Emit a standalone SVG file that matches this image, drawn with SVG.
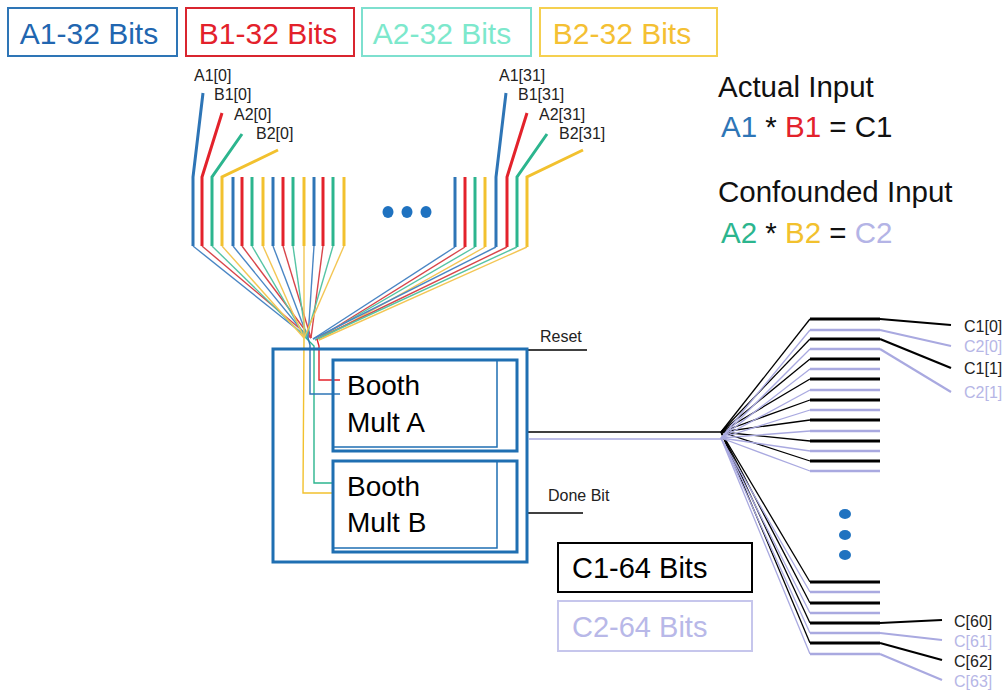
<svg xmlns="http://www.w3.org/2000/svg" width="1008" height="692" viewBox="0 0 1008 692">
<style>
text{font-family:"Liberation Sans",Arial,sans-serif;}
.big{font-size:30px;}
.leg{font-size:29.5px;fill:#111;}
.lbl{font-size:16px;fill:#222;}
.lblc2{font-size:16px;fill:#b6b6e6;}
.bus{stroke-width:3;fill:none;stroke-linecap:butt;}
.fan{stroke-width:1.4;fill:none;}
.cB{stroke:#2e75b6;} .cR{stroke:#e3222b;} .cT{stroke:#2cb58e;} .cY{stroke:#f2c12e;}
.fB{stroke:#4a86c4;} .fR{stroke:#d8464b;} .fT{stroke:#55c4a4;} .fY{stroke:#f3c654;}
.box{fill:none;stroke:#1f6fb2;stroke-width:3;}
.thin{fill:none;stroke:#1f6fb2;stroke-width:1.5;}
.k{stroke:#000;stroke-width:1.3;fill:none;}
.l{stroke:#a9a9e0;stroke-width:1.3;fill:none;}
.kb{stroke:#000;stroke-width:3;}
.lb{stroke:#a9a9e0;stroke-width:2.5;}
.dot{fill:#1f72c0;}
</style>

<g id="legend-top">
<rect x="8" y="8" width="169" height="48" fill="#fff" stroke="#2e75b6" stroke-width="2"/>
<text class="big" x="89" y="44" text-anchor="middle" fill="#2166b0">A1-32 Bits</text>
<rect x="186" y="8" width="168" height="48" fill="#fff" stroke="#d9252f" stroke-width="2"/>
<text class="big" x="268" y="44" text-anchor="middle" fill="#e3212b">B1-32 Bits</text>
<rect x="362" y="8" width="169" height="48" fill="#fff" stroke="#7ee0cf" stroke-width="2"/>
<text class="big" x="442" y="44" text-anchor="middle" fill="#7de8cc">A2-32 Bits</text>
<rect x="540" y="8" width="177" height="48" fill="#fff" stroke="#f5d050" stroke-width="2"/>
<text class="big" x="622" y="44" text-anchor="middle" fill="#f4c033">B2-32 Bits</text>
</g>

<g id="legend-right">
<text class="leg" x="718" y="97">Actual Input</text>
<text class="leg" x="721" y="137"><tspan fill="#2e75b6">A1</tspan> * <tspan fill="#e3222b">B1</tspan> = C1</text>
<text class="leg" x="718" y="202">Confounded Input</text>
<text class="leg" x="721" y="243"><tspan fill="#2cb58e">A2</tspan> * <tspan fill="#f2c12e">B2</tspan> = <tspan fill="#b4b4e6">C2</tspan></text>
</g>

<g id="input-labels">
<text class="lbl" x="194" y="81">A1[0]</text>
<text class="lbl" x="214" y="100">B1[0]</text>
<text class="lbl" x="234" y="120">A2[0]</text>
<text class="lbl" x="256" y="139">B2[0]</text>
<text class="lbl" x="499" y="81">A1[31]</text>
<text class="lbl" x="518" y="100">B1[31]</text>
<text class="lbl" x="539" y="120">A2[31]</text>
<text class="lbl" x="559" y="139">B2[31]</text>
</g>

<g id="input-bus">
<polyline class="bus cB" points="203,93 193,177 193,246"/>
<polyline class="bus cR" points="222,113 202,177 202,246"/>
<polyline class="bus cT" points="242,134 212,177 212,246"/>
<polyline class="bus cY" points="278,150 222,177 222,246"/>
<line class="bus cB" x1="233" y1="177" x2="233" y2="246"/>
<line class="bus cR" x1="242" y1="177" x2="242" y2="246"/>
<line class="bus cT" x1="252" y1="177" x2="252" y2="246"/>
<line class="bus cY" x1="263" y1="177" x2="263" y2="246"/>
<line class="bus cB" x1="273" y1="177" x2="273" y2="246"/>
<line class="bus cR" x1="283" y1="177" x2="283" y2="246"/>
<line class="bus cT" x1="293" y1="177" x2="293" y2="246"/>
<line class="bus cY" x1="304" y1="177" x2="304" y2="246"/>
<line class="bus cB" x1="314" y1="177" x2="314" y2="246"/>
<line class="bus cR" x1="323" y1="177" x2="323" y2="246"/>
<line class="bus cT" x1="333" y1="177" x2="333" y2="246"/>
<line class="bus cY" x1="344" y1="177" x2="344" y2="246"/>

<line class="bus cB" x1="455" y1="177" x2="455" y2="247"/>
<line class="bus cR" x1="465" y1="177" x2="465" y2="247"/>
<line class="bus cT" x1="475" y1="177" x2="475" y2="247"/>
<line class="bus cY" x1="485" y1="177" x2="485" y2="247"/>
<polyline class="bus cB" points="506,93 496,177 496,247"/>
<polyline class="bus cR" points="527,113 507,177 507,247"/>
<polyline class="bus cT" points="547,134 517,177 517,247"/>
<polyline class="bus cY" points="583,150 527,177 527,247"/>

<ellipse class="dot" cx="388" cy="212" rx="5.5" ry="6"/>
<ellipse class="dot" cx="407" cy="212" rx="5.5" ry="6"/>
<ellipse class="dot" cx="426" cy="212" rx="5.5" ry="6"/>
</g>

<g id="connectors">
<line class="fan fB" x1="193" y1="246" x2="308" y2="338"/>
<line class="fan fR" x1="202" y1="246" x2="311" y2="338"/>
<line class="fan fT" x1="212" y1="246" x2="306" y2="338"/>
<line class="fan fY" x1="222" y1="246" x2="304" y2="338"/>
<line class="fan fB" x1="233" y1="246" x2="308" y2="338"/>
<line class="fan fR" x1="242" y1="246" x2="311" y2="338"/>
<line class="fan fT" x1="252" y1="246" x2="306" y2="338"/>
<line class="fan fY" x1="263" y1="246" x2="304" y2="338"/>
<line class="fan fB" x1="273" y1="246" x2="308" y2="338"/>
<line class="fan fR" x1="283" y1="246" x2="311" y2="338"/>
<line class="fan fT" x1="293" y1="246" x2="306" y2="338"/>
<line class="fan fY" x1="304" y1="246" x2="304" y2="338"/>
<line class="fan fB" x1="314" y1="246" x2="308" y2="338"/>
<line class="fan fR" x1="323" y1="246" x2="311" y2="338"/>
<line class="fan fT" x1="333" y1="246" x2="306" y2="338"/>
<line class="fan fY" x1="344" y1="246" x2="304" y2="338"/>
<line class="fan fB" x1="455" y1="247" x2="313" y2="339"/>
<line class="fan fR" x1="465" y1="247" x2="317" y2="339"/>
<line class="fan fT" x1="475" y1="247" x2="315" y2="340"/>
<line class="fan fY" x1="485" y1="247" x2="319" y2="340"/>
<line class="fan fB" x1="496" y1="247" x2="313" y2="339"/>
<line class="fan fR" x1="507" y1="247" x2="317" y2="339"/>
<line class="fan fT" x1="517" y1="247" x2="315" y2="340"/>
<line class="fan fY" x1="527" y1="247" x2="319" y2="340"/>
<polyline class="fan cY" stroke-width="1.6" points="304,338 303,493 334,493"/>
<polyline class="fan cT" stroke-width="1.6" points="306,338 314,346 314,483 334,483"/>
<polyline class="fan cB" stroke-width="1.6" points="308,338 310,345 310,394 340,394"/>
<polyline class="fan cR" stroke-width="1.6" points="317,339 319,346 319,380 340,380"/>

<line x1="527" y1="350" x2="587" y2="350" stroke="#000" stroke-width="1.3"/>
<line x1="527" y1="513" x2="583" y2="513" stroke="#000" stroke-width="1.3"/>

<line x1="527" y1="432" x2="721" y2="432" stroke="#000" stroke-width="1.5"/>
<line x1="529" y1="439" x2="721" y2="439" stroke="#a9a9e0" stroke-width="1.5"/>

<line class="k" x1="721" y1="432" x2="810" y2="319"/>
<line class="k" x1="721" y1="432" x2="810" y2="339"/>
<line class="k" x1="721" y1="432" x2="810" y2="359"/>
<line class="k" x1="721" y1="432" x2="810" y2="379"/>
<line class="k" x1="721" y1="432" x2="810" y2="400"/>
<line class="k" x1="721" y1="432" x2="810" y2="420"/>
<line class="k" x1="721" y1="432" x2="810" y2="441"/>
<line class="k" x1="721" y1="432" x2="810" y2="461"/>
<line class="k" x1="721" y1="432" x2="810" y2="582"/>
<line class="k" x1="721" y1="432" x2="810" y2="603"/>
<line class="k" x1="721" y1="432" x2="810" y2="623"/>
<line class="k" x1="721" y1="432" x2="810" y2="643"/>
<line class="l" x1="721" y1="438" x2="810" y2="330"/>
<line class="l" x1="721" y1="438" x2="810" y2="349"/>
<line class="l" x1="721" y1="438" x2="810" y2="369"/>
<line class="l" x1="721" y1="438" x2="810" y2="390"/>
<line class="l" x1="721" y1="438" x2="810" y2="410"/>
<line class="l" x1="721" y1="438" x2="810" y2="431"/>
<line class="l" x1="721" y1="438" x2="810" y2="451"/>
<line class="l" x1="721" y1="438" x2="810" y2="471"/>
<line class="l" x1="721" y1="438" x2="810" y2="592"/>
<line class="l" x1="721" y1="438" x2="810" y2="613"/>
<line class="l" x1="721" y1="438" x2="810" y2="633"/>
<line class="l" x1="721" y1="438" x2="810" y2="654"/>

<line x1="880" y1="319" x2="951" y2="325" stroke="#000" stroke-width="2.2"/>
<line x1="880" y1="330" x2="951" y2="346" stroke="#a9a9e0" stroke-width="2.2"/>
<line x1="880" y1="339" x2="951" y2="368" stroke="#000" stroke-width="2.2"/>
<line x1="880" y1="349" x2="951" y2="392" stroke="#a9a9e0" stroke-width="2.2"/>
<line x1="880" y1="623" x2="942" y2="620" stroke="#000" stroke-width="2.2"/>
<line x1="880" y1="633" x2="942" y2="640" stroke="#a9a9e0" stroke-width="2.2"/>
<line x1="880" y1="643" x2="942" y2="660" stroke="#000" stroke-width="2.2"/>
<line x1="880" y1="654" x2="942" y2="680" stroke="#a9a9e0" stroke-width="2.2"/>
</g>

<g id="output-bus">
<line class="kb" x1="810" y1="319" x2="880" y2="319"/>
<line class="kb" x1="810" y1="339" x2="880" y2="339"/>
<line class="kb" x1="810" y1="359" x2="880" y2="359"/>
<line class="kb" x1="810" y1="379" x2="880" y2="379"/>
<line class="kb" x1="810" y1="400" x2="880" y2="400"/>
<line class="kb" x1="810" y1="420" x2="880" y2="420"/>
<line class="kb" x1="810" y1="441" x2="880" y2="441"/>
<line class="kb" x1="810" y1="461" x2="880" y2="461"/>
<line class="lb" x1="810" y1="330" x2="880" y2="330"/>
<line class="lb" x1="810" y1="349" x2="880" y2="349"/>
<line class="lb" x1="810" y1="369" x2="880" y2="369"/>
<line class="lb" x1="810" y1="390" x2="880" y2="390"/>
<line class="lb" x1="810" y1="410" x2="880" y2="410"/>
<line class="lb" x1="810" y1="431" x2="880" y2="431"/>
<line class="lb" x1="810" y1="451" x2="880" y2="451"/>
<line class="lb" x1="810" y1="471" x2="880" y2="471"/>
<line class="kb" x1="810" y1="582" x2="880" y2="582"/>
<line class="kb" x1="810" y1="603" x2="880" y2="603"/>
<line class="kb" x1="810" y1="623" x2="880" y2="623"/>
<line class="kb" x1="810" y1="643" x2="880" y2="643"/>
<line class="lb" x1="810" y1="592" x2="880" y2="592"/>
<line class="lb" x1="810" y1="613" x2="880" y2="613"/>
<line class="lb" x1="810" y1="633" x2="880" y2="633"/>
<line class="lb" x1="810" y1="654" x2="880" y2="654"/>
<ellipse class="dot" cx="845" cy="514" rx="6" ry="5"/>
<ellipse class="dot" cx="845" cy="535" rx="6" ry="5"/>
<ellipse class="dot" cx="845" cy="555" rx="6" ry="5"/>
</g>

<g id="output-labels">
<text class="lbl" x="964" y="332">C1[0]</text>
<text class="lblc2" x="964" y="352">C2[0]</text>
<text class="lbl" x="964" y="374">C1[1]</text>
<text class="lblc2" x="964" y="398">C2[1]</text>
<text class="lbl" x="954" y="627">C[60]</text>
<text class="lblc2" x="954" y="647">C[61]</text>
<text class="lbl" x="954" y="667">C[62]</text>
<text class="lblc2" x="954" y="687">C[63]</text>
</g>

<g id="signals">
<text class="lbl" x="540" y="342">Reset</text>
<text class="lbl" x="548" y="501">Done Bit</text>
</g>

<g id="booth-outer">
<rect class="box" x="273" y="349" width="254" height="213"/>
</g>
<g id="booth-a">
<rect class="box" x="333" y="360" width="184" height="91"/>
<polyline class="thin" points="333,447 497,447 497,360"/>
<text x="347" y="395" font-size="28" fill="#000">Booth</text>
<text x="347" y="432" font-size="28" fill="#000">Mult A</text>
</g>
<g id="booth-b">
<rect class="box" x="333" y="461" width="184" height="91"/>
<polyline class="thin" points="333,548 497,548 497,461"/>
<text x="347" y="496" font-size="28" fill="#000">Booth</text>
<text x="347" y="532" font-size="28" fill="#000">Mult B</text>
</g>

<g id="legend-c">
<rect x="558" y="543" width="194" height="49" fill="#fff" stroke="#000" stroke-width="2"/>
<text x="572" y="578" font-size="29" fill="#000">C1-64 Bits</text>
<rect x="558" y="601" width="194" height="50" fill="#fff" stroke="#c6c6ec" stroke-width="2"/>
<text x="572" y="637" font-size="29" fill="#b8b8e8">C2-64 Bits</text>
</g>
</svg>
